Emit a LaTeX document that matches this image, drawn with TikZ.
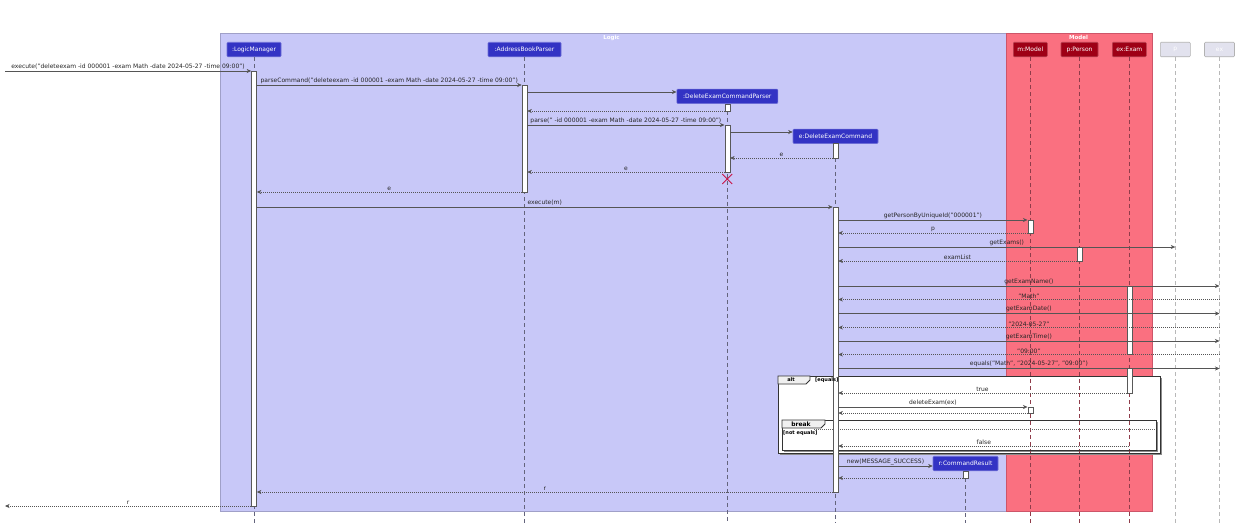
\documentclass[tikz,border=0pt]{standalone}
\usepackage{fontspec}
\setmainfont{DejaVu Sans}
\usetikzlibrary{arrows.meta,shapes.misc}
\definecolor{logicbg}{RGB}{200,200,248}
\definecolor{logicedge}{RGB}{160,160,200}
\definecolor{modelbg}{RGB}{250,112,128}
\definecolor{modeledge}{RGB}{205,85,105}
\definecolor{logicpart}{RGB}{51,51,196}
\definecolor{modelpart}{RGB}{158,0,22}
\definecolor{plainpart}{RGB}{226,226,238}
\definecolor{msgline}{RGB}{85,85,85}
\definecolor{killred}{RGB}{200,20,70}
\newcommand\msgfont{\fontsize{6}{7}\selectfont}
\newcommand\tagfont{\fontsize{5}{6}\selectfont\bfseries}
\tikzset{
  partbox/.style={rounded corners=1pt, line width=0.6pt, inner sep=0pt,
    minimum height=14.5, text=white, font=\msgfont},
  partL/.style={partbox, fill=logicpart, draw=logicpart!70!white},
  partM/.style={partbox, fill=modelpart, draw=modelpart!75!white},
  partW/.style={partbox, fill=plainpart, draw=black!30},
  life/.style={line width=0.6pt, dash pattern=on 4pt off 3pt},
  act/.style={draw=black!65, fill=white, line width=0.6pt, inner sep=0pt, minimum width=5},
  msg/.style={draw=msgline, line width=0.6pt, -{Stealth[length=4.5pt,width=4pt,inset=1.3pt]}},
  ret/.style={msg, dash pattern=on 1pt off 1pt},
  lbl/.style={above, inner sep=1pt, font=\msgfont, text=black!85},
  frame/.style={draw=black!80, line width=0.8pt}
}
\begin{document}
\begin{tikzpicture}[x=1pt, y=-1pt, line cap=butt, line join=miter]
  \fill[white] (0,0) rectangle (1246,523);
  \useasboundingbox (0,0) rectangle (1246,523);
  % boxes for the two packages
  \filldraw[fill=logicbg, draw=logicedge, line width=0.8pt] (220,33) rectangle (1006,511);
  \filldraw[fill=modelbg, draw=modeledge, line width=0.8pt] (1006,33) rectangle (1152,511);
  \node[font=\fontsize{5.5}{6}\selectfont\bfseries, text=white] (logictitle) at (611.5,37.5) {Logic};
  \node[font=\fontsize{5.5}{6}\selectfont\bfseries, text=white] (modeltitle) at (1078.5,37.5) {Model};
  % alt and break frames, filled before the lifelines
  \fill[black!45] (780,378) rectangle (1162,455);
  \fill[white] (778,376) rectangle (1160,453);
  \fill[black!45] (784,422) rectangle (1158,452);
  \fill[white] (782,420) rectangle (1156,450);
  % participants
  \node[partL, minimum width=54] (lm) at (254,49.5) {:LogicManager};
  \node[partL, minimum width=73] (abp) at (524.5,49.5) {:AddressBookParser};
  \node[partL, minimum width=101] (decp) at (727.3,96.3) {:DeleteExamCommandParser};
  \node[partL, minimum width=85] (dec) at (835.5,136.3) {e:DeleteExamCommand};
  \node[partL, minimum width=65] (cr) at (965.5,463.5) {r:CommandResult};
  \node[partM, minimum width=34] (model) at (1030.3,49.5) {m:Model};
  \node[partM, minimum width=37] (person) at (1079.5,49.5) {p:Person};
  \node[partM, minimum width=34] (exam) at (1129.3,49.5) {ex:Exam};
  \node[partW, minimum width=30] (pw) at (1175.3,49.5) {p};
  \node[partW, minimum width=30] (exw) at (1219.5,49.5) {ex};
  % lifelines
  \foreach \p in {lm,abp,decp,dec,cr} \draw[life, draw=black!50!logicbg] (\p.south) -- (\p |- 0,523);
  \foreach \p in {model,person,exam} \draw[life, draw=black!30!modeledge] (\p.south) -- (\p |- 0,523);
  \foreach \p in {pw,exw} \draw[life, draw=black!28] (\p.south) -- (\p |- 0,523);
  % frame outlines and tags
  \draw[frame] (778,376) rectangle (1160,453);
  \filldraw[frame, fill=black!6] (778,376) -- (810,376) -- (810,380) -- (806,384) -- (778,384) -- cycle;
  \node[font=\tagfont] (alttag) at (791,380) {alt};
  \draw[frame] (782,420) rectangle (1156,450);
  \filldraw[frame, fill=black!6] (782,420) -- (825,420) -- (825,424) -- (821,428) -- (782,428) -- cycle;
  \node[font=\fontsize{6}{7}\selectfont\bfseries] (breaktag) at (801,424) {break};
  \draw[draw=black!60, line width=0.6pt, dash pattern=on 1pt off 1pt] (breaktag.east |- 0,429) -- (1156,429);
  \node[font=\tagfont, anchor=west, inner sep=0pt] (breakguard) at (783,433.5) {[not equals]};
  % activation bars
  \foreach \n/\p/\a/\b in {actLM/lm/71/506, actABP/abp/85/192, actDECPa/decp/104/111,
      actDECPb/decp/125/172, actDECa/dec/143/158, actDECb/dec/207/492, actMa/model/220/233,
      actP/person/247/261, actExa/exam/286/354, actExb/exam/368/393, actMb/model/407/413,
      actCR/cr/471/478}
    \node[act, minimum height=\b-\a, anchor=north] (\n) at (\p |- 0,\a) {};
  \node[font=\tagfont, anchor=west, inner sep=0pt] (altguard) at (815,380.3) {[equals]};
  \node[cross out, draw=killred, line width=0.9pt, minimum size=9, inner sep=0pt] (kill) at (decp |- 0,179) {};
  % messages
  \coordinate (entry) at (5,71);
  \coordinate (exit) at (5,506);
  \draw[msg] (entry) -- (actLM.west |- entry) node[lbl, midway] {execute("deleteexam -id 000001 -exam Math -date 2024-05-27 -time 09:00")};
  \draw[msg] (actLM.east |- 0,85) -- (actABP.west |- 0,85) node[lbl, midway] {parseCommand("deleteexam -id 000001 -exam Math -date 2024-05-27 -time 09:00")};
  \draw[msg] (actABP.east |- 0,92) -- (decp.west |- 0,92);
  \draw[ret] (actDECPa.west |- 0,111) -- (actABP.east |- 0,111);
  \draw[msg] (actABP.east |- 0,125) -- (actDECPb.west |- 0,125) node[lbl, midway] {parse(" -id 000001 -exam Math -date 2024-05-27 -time 09:00")};
  \draw[msg] (actDECPb.east |- 0,132) -- (dec.west |- 0,132);
  \draw[ret] (actDECa.west |- 0,158) -- (actDECPb.east |- 0,158) node[lbl, midway] {e};
  \draw[ret] (actDECPb.west |- 0,172) -- (actABP.east |- 0,172) node[lbl, midway] {e};
  \draw[ret] (actABP.west |- 0,192) -- (actLM.east |- 0,192) node[lbl, midway] {e};
  \draw[msg] (actLM.east |- 0,207) -- (actDECb.west |- 0,207) node[lbl, midway] {execute(m)};
  \draw[msg] (actDECb.east |- 0,220) -- (actMa.west |- 0,220) node[lbl, midway] {getPersonByUniqueId("000001")};
  \draw[ret] (actMa.west |- 0,233) -- (actDECb.east |- 0,233) node[lbl, midway] {p};
  \draw[msg] (actDECb.east |- 0,247) -- (pw |- 0,247) node[lbl, midway] {getExams()};
  \draw[ret] (actP.west |- 0,261) -- (actDECb.east |- 0,261) node[lbl, midway] {examList};
  \foreach \a/\b/\c/\r in {286/299.5/getExamName()/"Math", 313.5/327.5/getExamDate()/"2024-05-27",
      341/354.5/getExamTime()/"09:00"} {
    \draw[msg] (actDECb.east |- 0,\a) -- (exw |- 0,\a) node[lbl, midway] {\c};
    \draw[ret] (exw |- 0,\b) -- (actDECb.east |- 0,\b) node[lbl, midway] {\r};
  }
  \draw[msg] (actDECb.east |- 0,368.5) -- (exw |- 0,368.5) node[lbl, midway] {equals("Math", "2024-05-27", "09:00")};
  \draw[ret] (actExb.west |- 0,393) -- (actDECb.east |- 0,393) node[lbl, midway] {true};
  \draw[msg] (actDECb.east |- 0,407) -- (actMb.west |- 0,407) node[lbl, midway] {deleteExam(ex)};
  \draw[ret] (actMb.west |- 0,413) -- (actDECb.east |- 0,413);
  \draw[ret] (exam |- 0,446) -- (actDECb.east |- 0,446) node[lbl, midway] {false};
  \draw[msg] (actDECb.east |- 0,466) -- (cr.west |- 0,466) node[lbl, midway] {new(MESSAGE\_SUCCESS)};
  \draw[ret] (actCR.west |- 0,478) -- (actDECb.east |- 0,478);
  \draw[ret] (actDECb.west |- 0,492) -- (actLM.east |- 0,492) node[lbl, midway] {r};
  \draw[ret] (actLM.west |- exit) -- (exit) node[lbl, midway] {r};
\end{tikzpicture}
\end{document}
